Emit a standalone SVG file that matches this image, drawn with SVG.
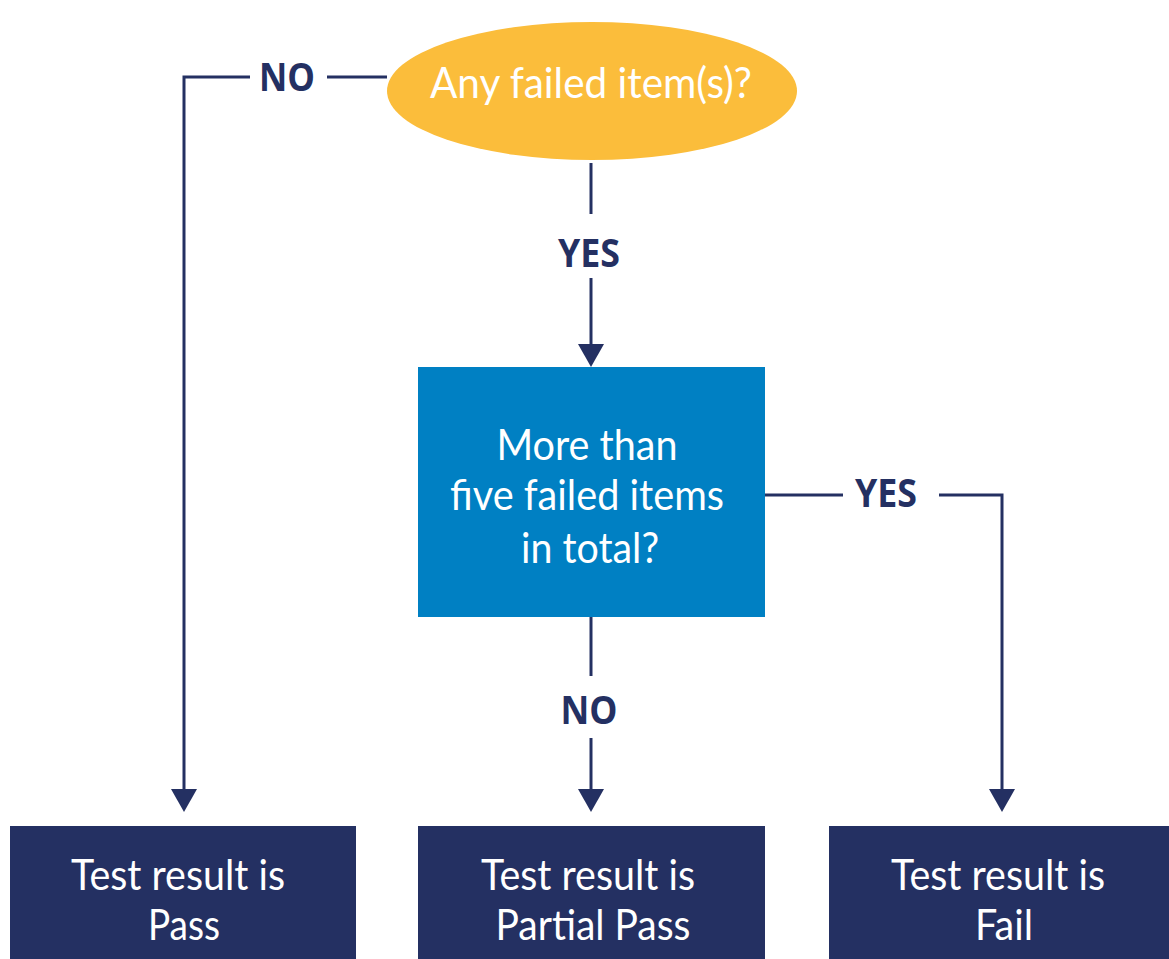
<svg xmlns="http://www.w3.org/2000/svg" width="1169" height="959" viewBox="0 0 1169 959">
<defs>
<style>
.edge{fill:none;stroke:#243062;stroke-width:3}
.head{fill:#243062}
.lbl{font-family:"Open Sans","Liberation Sans",sans-serif;font-weight:700;font-size:40px;fill:#243062;text-anchor:middle}
.txt{font-family:Lato,"Liberation Sans",sans-serif;font-size:42px;fill:#ffffff;text-anchor:middle}
.res{fill:#243062}
</style>
</defs>
<rect width="1169" height="959" fill="#ffffff"/>
<g id="connectors">
<polyline class="edge" points="387,77 327,77"/>
<polyline class="edge" points="250,77 184,77 184,790"/>
<polygon class="head" points="171,789 197,789 184,812"/>
<text class="lbl" x="287" y="91" textLength="56" lengthAdjust="spacingAndGlyphs">NO</text>
<line class="edge" x1="591" y1="163" x2="591" y2="214"/>
<line class="edge" x1="591" y1="278" x2="591" y2="345"/>
<polygon class="head" points="578,344 604,344 591,367"/>
<text class="lbl" x="589" y="267" textLength="62" lengthAdjust="spacingAndGlyphs">YES</text>
<line class="edge" x1="765" y1="495" x2="843" y2="495"/>
<polyline class="edge" points="939,495 1002,495 1002,790"/>
<polygon class="head" points="989,789 1015,789 1002,812"/>
<text class="lbl" x="886" y="507" textLength="62" lengthAdjust="spacingAndGlyphs">YES</text>
<line class="edge" x1="591" y1="617" x2="591" y2="676"/>
<line class="edge" x1="591" y1="738" x2="591" y2="790"/>
<polygon class="head" points="578,789 604,789 591,812"/>
<text class="lbl" x="589" y="724" textLength="57" lengthAdjust="spacingAndGlyphs">NO</text>
</g>
<g id="start">
<ellipse cx="592" cy="91" rx="205" ry="69" fill="#FBBD3B"/>
<text class="txt" x="591" y="98" textLength="322" lengthAdjust="spacingAndGlyphs">Any failed item(s)?</text>
</g>
<g id="decision">
<rect x="418" y="367" width="347" height="250" fill="#0080C3"/>
<text class="txt" x="587" y="460" textLength="181" lengthAdjust="spacingAndGlyphs">More than</text>
<text class="txt" x="587" y="510" textLength="274" lengthAdjust="spacingAndGlyphs">five failed items</text>
<text class="txt" x="590" y="563" textLength="138" lengthAdjust="spacingAndGlyphs">in total?</text>
</g>
<g id="pass">
<rect class="res" x="10" y="826" width="346" height="140"/>
<text class="txt" x="178" y="890" textLength="214" lengthAdjust="spacingAndGlyphs">Test result is</text>
<text class="txt" x="184" y="940" textLength="72" lengthAdjust="spacingAndGlyphs">Pass</text>
</g>
<g id="partial">
<rect class="res" x="418" y="826" width="347" height="140"/>
<text class="txt" x="588" y="890" textLength="214" lengthAdjust="spacingAndGlyphs">Test result is</text>
<text class="txt" x="593" y="940" textLength="195" lengthAdjust="spacingAndGlyphs">Partial Pass</text>
</g>
<g id="fail">
<rect class="res" x="829" y="826" width="346" height="140"/>
<text class="txt" x="998" y="890" textLength="214" lengthAdjust="spacingAndGlyphs">Test result is</text>
<text class="txt" x="1004" y="940" textLength="58" lengthAdjust="spacingAndGlyphs">Fail</text>
</g>
</svg>
